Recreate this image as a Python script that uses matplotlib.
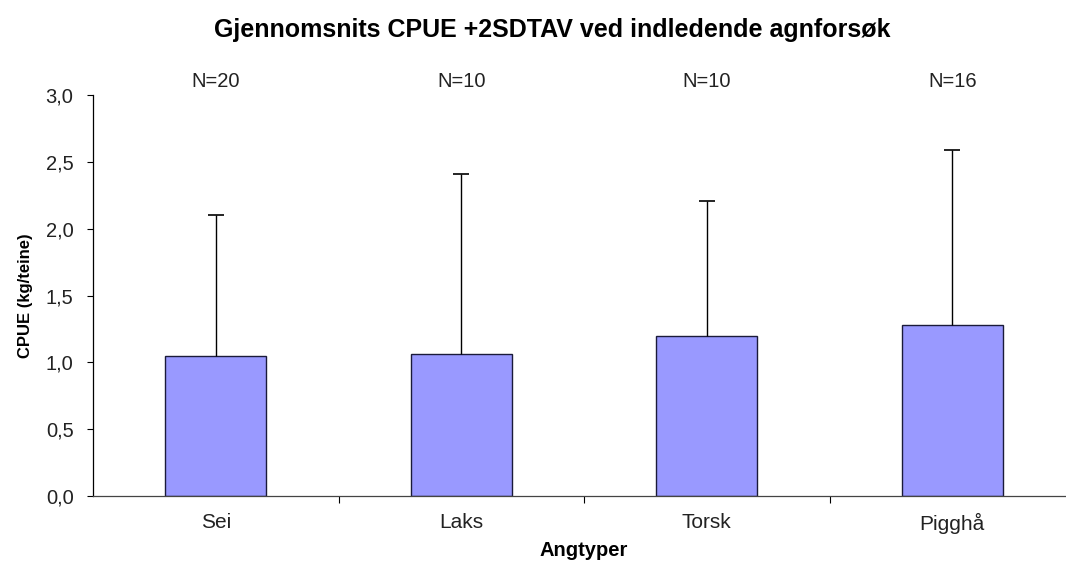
import matplotlib.pyplot as plt
from matplotlib.ticker import FuncFormatter

# data
categories = ['Sei', 'Laks', 'Torsk', 'Pigghå']
cpue_mean = [1.05, 1.06, 1.20, 1.28]
cpue_upper = [2.10, 2.41, 2.21, 2.59]   # mean + 2 SD
n_labels = ['N=20', 'N=10', 'N=10', 'N=16']

plt.rcParams['font.family'] = ['Liberation Sans', 'DejaVu Sans']

fig = plt.figure(figsize=(10.66, 5.72), dpi=100)
# axes runs past the right edge, as in the cropped original
ax = fig.add_axes([93 / 1066, 76 / 572, 982 / 1066, 401 / 572])

x = list(range(len(categories)))
ax.bar(x, cpue_mean, width=0.41, color='#9999FF', edgecolor='#1a1a3a', linewidth=1.0, zorder=2)
# one-sided error bars (upper only)
ax.vlines(x, cpue_mean, cpue_upper, color='black', linewidth=1.0, zorder=3)
ax.plot(x, cpue_upper, linestyle='none', marker='_', markersize=12,
        markeredgewidth=1.2, color='black', zorder=3)

ax.set_xlim(-0.5, len(categories) - 0.5)
ax.set_ylim(0, 3.0)
ax.set_yticks([0, 0.5, 1.0, 1.5, 2.0, 2.5, 3.0])
ax.yaxis.set_major_formatter(FuncFormatter(lambda v, p: f'{v:.1f}'.replace('.', ',')))

# category labels without ticks, ticks between categories
ax.set_xticks(x)
ax.set_xticklabels(categories, fontsize=15, color='#222222')
ax.tick_params(axis='x', length=0, pad=12)
ax.set_xticks([i + 0.5 for i in x], minor=True)
ax.tick_params(axis='x', which='minor', length=5, direction='out', width=0.8)
ax.tick_params(axis='y', length=4, direction='out', width=0.8, labelsize=14.5,
               pad=10, labelcolor='#222222')

for s in ['top', 'right']:
    ax.spines[s].set_visible(False)
ax.spines['left'].set_linewidth(0.9)
ax.spines['bottom'].set_linewidth(0.9)
ax.spines['bottom'].set_color('#444444')

for xi, lab in zip(x, n_labels):
    ax.text(xi, 3.1, lab, ha='center', va='center', fontsize=14.5, color='#222222')

ax.set_ylabel('CPUE (kg/teine)', fontsize=12, fontweight='bold', labelpad=9)
ax.set_xlabel('Angtyper', fontsize=14.5, fontweight='bold', labelpad=5)
fig.text(0.518, 0.9475, 'Gjennomsnits CPUE +2SDTAV ved indledende agnforsøk',
         ha='center', va='center', fontsize=18, fontweight='bold')

fig.savefig('out.png', dpi=100)
